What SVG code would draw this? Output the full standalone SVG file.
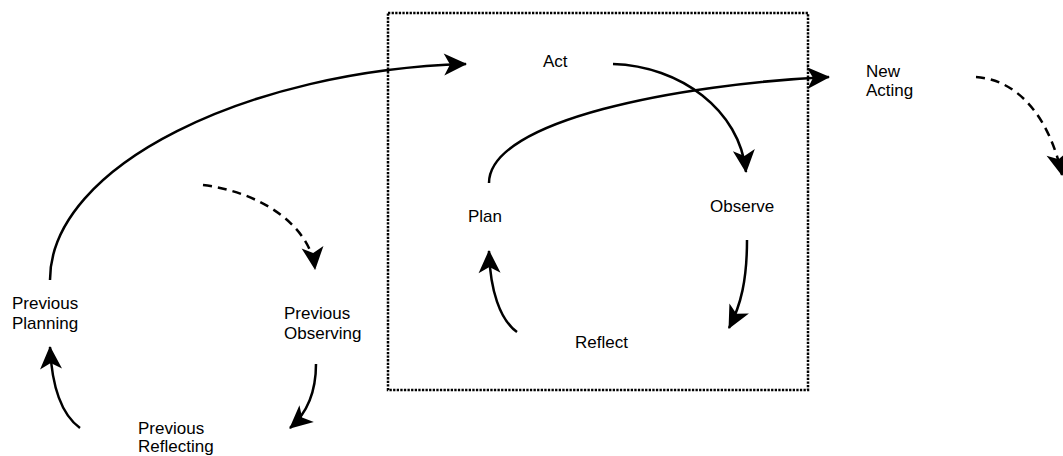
<svg xmlns="http://www.w3.org/2000/svg" width="1063" height="456" viewBox="0 0 1063 456">
<style>
text{font-family:"Liberation Sans",Arial,sans-serif;font-size:17px;fill:#000}
.c{fill:none;stroke:#000;stroke-width:2.5}
.d{stroke-dasharray:9 6}
.box{fill:none;stroke:#000;stroke-width:2.5;stroke-dasharray:2.3 1.3}
</style>
<defs>
<marker id="ah" markerUnits="userSpaceOnUse" viewBox="-25 -13 27 26" markerWidth="27" markerHeight="26" refX="0" refY="0" orient="auto" overflow="visible">
<path d="M1,0 L-22,-11 L-16,0 L-22,11 Z" fill="#000"/>
</marker>
</defs>
<rect id="cycle-box" class="box" x="388" y="13" width="420" height="377"/>
<g id="connectors">
<path class="c" d="M50,280 C50,165 250,70 466,64" marker-end="url(#ah)"/>
<path class="c" d="M613,64 C680,66 740,110 746,172" marker-end="url(#ah)"/>
<path class="c" d="M489,183 C489,120 680,84 829,77" marker-end="url(#ah)"/>
<path class="c" d="M747,240 C747,280 741,305 729,328" marker-end="url(#ah)"/>
<path class="c" d="M517,332 C500,320 490,290 489,251" marker-end="url(#ah)"/>
<path class="c d" d="M203,185 C260,192 310,225 315,269" marker-end="url(#ah)"/>
<path class="c" d="M316,364 C316,395 305,415 290,428" marker-end="url(#ah)"/>
<path class="c" d="M80,428 C62,415 52,390 50,347" marker-end="url(#ah)"/>
<path class="c d" d="M976,77 C1020,80 1050,120 1062,175" marker-end="url(#ah)"/>
</g>
<g id="act"><text x="543" y="67">Act</text></g>
<g id="observe"><text x="710" y="212">Observe</text></g>
<g id="plan"><text x="468" y="222">Plan</text></g>
<g id="reflect"><text x="575" y="348">Reflect</text></g>
<g id="new-acting"><text x="866" y="77">New</text><text x="866" y="96">Acting</text></g>
<g id="previous-planning"><text x="12" y="309">Previous</text><text x="12" y="329">Planning</text></g>
<g id="previous-observing"><text x="284" y="319">Previous</text><text x="284" y="339">Observing</text></g>
<g id="previous-reflecting"><text x="138" y="434">Previous</text><text x="138" y="452">Reflecting</text></g>
</svg>
